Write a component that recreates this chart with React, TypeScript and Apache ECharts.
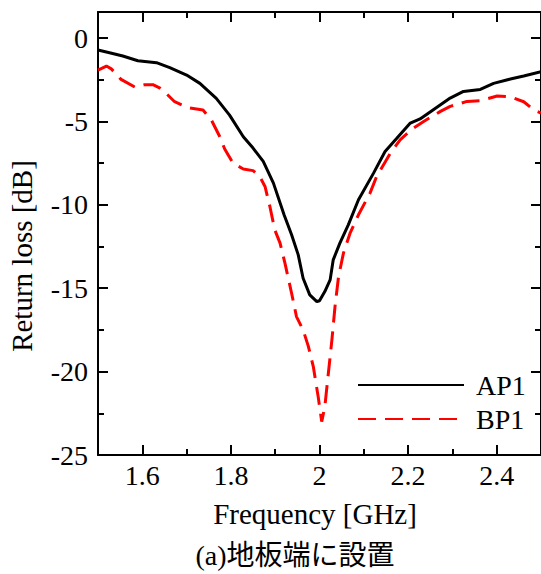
import React, { useEffect, useRef } from "react";
import * as echarts from "echarts";

// ---- data ----
const freqAP1 = [1.5, 1.526, 1.556, 1.59, 1.632, 1.662, 1.7, 1.73, 1.767, 1.797, 1.828, 1.85, 1.873, 1.896, 1.92, 1.937, 1.952, 1.963, 1.978, 1.994, 2.0, 2.012, 2.024, 2.031, 2.046, 2.065, 2.088, 2.122, 2.148, 2.175, 2.205, 2.227, 2.257, 2.295, 2.325, 2.363, 2.393, 2.431, 2.461, 2.5];
const lossAP1 = [-0.72, -0.88, -1.08, -1.36, -1.48, -1.78, -2.22, -2.72, -3.62, -4.62, -5.92, -6.6, -7.4, -8.7, -10.6, -11.8, -13.0, -14.4, -15.4, -15.8, -15.75, -15.2, -14.5, -13.3, -12.3, -11.2, -9.7, -8.1, -6.8, -6.0, -5.1, -4.85, -4.3, -3.6, -3.2, -3.08, -2.72, -2.46, -2.28, -2.02];

const freqBP1 = [1.5, 1.519, 1.53, 1.552, 1.583, 1.605, 1.624, 1.64, 1.65, 1.673, 1.703, 1.737, 1.756, 1.775, 1.786, 1.805, 1.828, 1.85, 1.865, 1.877, 1.888, 1.899, 1.911, 1.922, 1.937, 1.948, 1.963, 1.975, 1.986, 1.997, 2.005, 2.012, 2.02, 2.028, 2.035, 2.043, 2.054, 2.069, 2.088, 2.114, 2.129, 2.16, 2.182, 2.212, 2.235, 2.273, 2.295, 2.333, 2.363, 2.401, 2.431, 2.461, 2.484, 2.5];
const lossBP1 = [-1.92, -1.68, -1.85, -2.48, -2.94, -2.8, -2.8, -3.0, -3.22, -3.82, -4.18, -4.32, -4.92, -5.92, -6.65, -7.51, -7.85, -7.95, -8.3, -8.9, -10.1, -11.5, -12.3, -13.5, -15.3, -16.7, -17.5, -18.5, -19.7, -21.5, -23.0, -22.1, -20.1, -18.1, -16.1, -14.3, -12.9, -11.7, -10.6, -9.3, -8.3, -6.9, -6.1, -5.4, -5.0, -4.4, -4.1, -3.8, -3.76, -3.48, -3.52, -3.82, -4.32, -4.5];

const xMajorTicks = [1.6, 1.8, 2, 2.2, 2.4];
const xMinorTicks = [1.7, 1.9, 2.1, 2.3];
const yMajorTicks = [-25, -20, -15, -10, -5, 0];
const yMinorTicks = [-22.5, -17.5, -12.5, -7.5, -2.5];

const seriesNames = ["AP1", "BP1"];
const xTitle = "Frequency [GHz]";
const yTitle = "Return loss [dB]";
const caption = "(a)地板端に設置";

const X_MIN = 1.5;
const X_MAX = 2.5;
const Y_MIN = -25;
const Y_MAX = 1.56;

const SERIF = "'Liberation Serif', 'Times New Roman', serif";
const CAPTION_FONT = "'Liberation Serif', 'Noto Sans CJK JP', serif";

export default function App() {
  const ref = useRef<HTMLDivElement>(null);

  useEffect(() => {
    document.body.style.margin = "0";
    const chart = echarts.init(ref.current!, null, { renderer: "svg" });
    const gridRect = { left: 98, right: -1, top: 12, bottom: 119 };
    const axisLineStyle = { color: "#000", width: 2 };

    const makeX = (gridIndex: number, position: string, ticks: number[], len: number, showLine: boolean, showLabel: boolean) => ({
      type: "value",
      gridIndex,
      position,
      min: X_MIN,
      max: X_MAX,
      axisLine: { show: showLine, onZero: false, lineStyle: axisLineStyle },
      axisTick: { show: true, inside: true, length: len, customValues: ticks, lineStyle: axisLineStyle },
      axisLabel: {
        show: showLabel,
        customValues: ticks,
        color: "#000",
        fontSize: 28,
        fontFamily: SERIF,
        margin: 6,
        formatter: (v: number) => String(v),
      },
      splitLine: { show: false },
    });
    const makeY = (gridIndex: number, position: string, ticks: number[], len: number, showLine: boolean, showLabel: boolean) => ({
      type: "value",
      gridIndex,
      position,
      min: Y_MIN,
      max: Y_MAX,
      axisLine: { show: showLine, onZero: false, lineStyle: axisLineStyle },
      axisTick: { show: true, inside: true, length: len, customValues: ticks, lineStyle: axisLineStyle },
      axisLabel: {
        show: showLabel,
        customValues: ticks,
        color: "#000",
        fontSize: 28,
        fontFamily: SERIF,
        margin: 10,
        formatter: (v: number) => String(v),
      },
      splitLine: { show: false },
    });

    chart.setOption({
      animation: false,
      backgroundColor: "#fff",
      grid: [
        { ...gridRect },
        { ...gridRect },
      ],
      xAxis: [
        makeX(0, "bottom", xMajorTicks, 10, true, true),
        makeX(0, "top", xMajorTicks, 10, true, false),
        makeX(1, "bottom", xMinorTicks, 6, false, false),
        makeX(1, "top", xMinorTicks, 6, false, false),
      ],
      yAxis: [
        makeY(0, "left", yMajorTicks, 10, true, true),
        makeY(0, "right", yMajorTicks, 10, true, false),
        makeY(1, "left", yMinorTicks, 6, false, false),
        makeY(1, "right", yMinorTicks, 6, false, false),
      ],
      legend: {
        orient: "vertical",
        left: 357,
        top: 371,
        padding: 0,
        itemWidth: 106,
        itemHeight: 14,
        itemGap: 6,
        itemStyle: { opacity: 0 },
        textStyle: { color: "#000", fontSize: 28, fontFamily: SERIF, padding: [0, 0, 0, 7] },
        data: seriesNames,
      },
      series: [
        {
          name: seriesNames[0],
          type: "line",
          xAxisIndex: 0,
          yAxisIndex: 0,
          symbol: "none",
          smooth: false,
          lineStyle: { color: "#000", width: 3 },
          itemStyle: { color: "#000" },
          data: freqAP1.map((f, i) => [f, lossAP1[i]]),
        },
        {
          name: seriesNames[1],
          type: "line",
          xAxisIndex: 0,
          yAxisIndex: 0,
          symbol: "none",
          smooth: false,
          lineStyle: { color: "#ff0000", width: 3, type: [18, 9] },
          itemStyle: { color: "#ff0000" },
          data: freqBP1.map((f, i) => [f, lossBP1[i]]),
        },
      ],
      graphic: [
        {
          type: "text",
          x: 315,
          y: 514,
          style: { text: xTitle, fill: "#000", fontSize: 29, fontFamily: SERIF, align: "center", verticalAlign: "middle" },
        },
        {
          type: "text",
          x: 22,
          y: 256,
          rotation: Math.PI / 2,
          style: { text: yTitle, fill: "#000", fontSize: 29, fontFamily: SERIF, align: "center", verticalAlign: "middle" },
        },
        {
          type: "text",
          x: 295,
          y: 555,
          style: { text: caption, fill: "#000", fontSize: 28, fontFamily: CAPTION_FONT, align: "center", verticalAlign: "middle" },
        },
      ],
    });
    return () => chart.dispose();
  }, []);

  return <div ref={ref} style={{ position: "absolute", left: 0, top: 0, width: 541, height: 574 }} />;
}
